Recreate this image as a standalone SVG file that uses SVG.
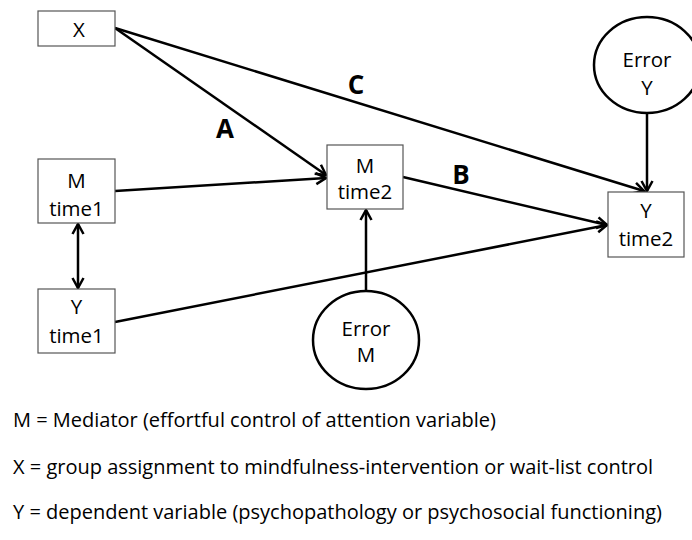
<svg xmlns="http://www.w3.org/2000/svg" width="692" height="540" viewBox="0 0 692 540">
<defs>
<style>
.box{fill:#fff;stroke:#555;stroke-width:1.2}
.circ{fill:#fff;stroke:#000;stroke-width:2.5}
.t{font-family:"Open Sans","Noto Sans",sans-serif;font-size:20.5px;fill:#000;text-anchor:middle}
.lbl{font-family:"Open Sans","Liberation Sans",sans-serif;font-size:26px;font-weight:bold;fill:#000;text-anchor:middle}
.leg{font-family:"Open Sans","Noto Sans",sans-serif;font-size:20px;fill:#000}
.ln{fill:none;stroke:#000;stroke-width:2.5}
</style>
<marker id="ah" markerUnits="userSpaceOnUse" viewBox="0 0 14 14" refX="12" refY="7" markerWidth="14" markerHeight="14" orient="auto-start-reverse">
<path d="M2,1.5 L12,7 L2,12.5" fill="none" stroke="#000" stroke-width="2.5"/>
</marker>
</defs>
<g id="connectors">
<line class="ln" x1="115" y1="28" x2="326" y2="175" marker-end="url(#ah)"/>
<line class="ln" x1="115" y1="28" x2="644" y2="191" marker-end="url(#ah)"/>
<line class="ln" x1="115" y1="191" x2="326" y2="178" marker-end="url(#ah)"/>
<line class="ln" x1="403" y1="177" x2="607" y2="225" marker-end="url(#ah)"/>
<line class="ln" x1="115" y1="322" x2="607" y2="225" marker-end="url(#ah)"/>
<line class="ln" x1="366" y1="291" x2="366" y2="210" marker-end="url(#ah)"/>
<line class="ln" x1="647" y1="113" x2="647" y2="191" marker-end="url(#ah)"/>
<line class="ln" x1="78" y1="224" x2="78" y2="288" marker-start="url(#ah)" marker-end="url(#ah)"/>
<text class="lbl" x="225" y="138">A</text>
<text class="lbl" x="356" y="94">C</text>
<text class="lbl" x="461" y="184">B</text>
</g>
<g id="node-x">
<rect class="box" x="38" y="11" width="77" height="35"/>
<text class="t" x="79" y="37">X</text>
</g>
<g id="node-m1">
<rect class="box" x="38" y="159" width="77" height="64"/>
<text class="t" x="76.5" y="188">M</text>
<text class="t" x="76.5" y="216">time1</text>
</g>
<g id="node-y1">
<rect class="box" x="38" y="289" width="77" height="64"/>
<text class="t" x="76.5" y="314">Y</text>
<text class="t" x="76.5" y="343">time1</text>
</g>
<g id="node-m2">
<rect class="box" x="327" y="145" width="76" height="64"/>
<text class="t" x="365" y="173">M</text>
<text class="t" x="365" y="199">time2</text>
</g>
<g id="node-y2">
<rect class="box" x="608" y="192" width="76" height="65"/>
<text class="t" x="646" y="218">Y</text>
<text class="t" x="646" y="246">time2</text>
</g>
<g id="node-errory">
<ellipse class="circ" cx="647" cy="65" rx="53" ry="48"/>
<text class="t" x="647" y="67">Error</text>
<text class="t" x="647" y="95">Y</text>
</g>
<g id="node-errorm">
<ellipse class="circ" cx="366" cy="340" rx="53" ry="49"/>
<text class="t" x="366" y="336">Error</text>
<text class="t" x="366" y="362">M</text>
</g>
<g id="legend">
<text class="leg" x="13" y="427">M = Mediator (effortful control of attention variable)</text>
<text class="leg" x="13" y="474">X = group assignment to mindfulness-intervention or wait-list control</text>
<text class="leg" x="13" y="519">Y = dependent variable (psychopathology or psychosocial functioning)</text>
</g>
</svg>
